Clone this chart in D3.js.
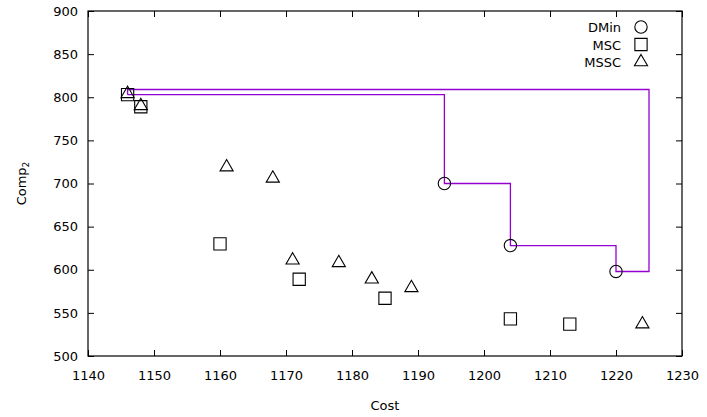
<!DOCTYPE html>
<html>
<head>
<meta charset="utf-8">
<script src="https://cdn.jsdelivr.net/npm/d3@7"></script>
<style>
  body { margin: 0; background: #fff; }
  svg { font-family: "DejaVu Sans", sans-serif; }
</style>
</head>
<body>
<div id="chart"></div>
<script>
// data
const dminCost = [1194, 1204, 1220];
const dminComp = [700, 628, 598];

const mscCost = [1146, 1148, 1160, 1172, 1185, 1204, 1213];
const mscComp = [803, 789, 630, 589, 567, 543, 537];

const msscCost = [1146, 1148, 1161, 1168, 1171, 1178, 1183, 1189, 1224];
const msscComp = [804, 790, 719, 706, 611, 608, 589, 579, 537];

// staircase front outline
const frontCost = [1146, 1194, 1194, 1204, 1204, 1220, 1220, 1225, 1225, 1146, 1146];
const frontComp = [803, 803, 700, 700, 628, 628, 598, 598, 809, 809, 803];

const xTicks = [1140, 1150, 1160, 1170, 1180, 1190, 1200, 1210, 1220, 1230];
const yTicks = [500, 550, 600, 650, 700, 750, 800, 850, 900];

const W = 707, H = 417;
const margin = { top: 11, right: 25, bottom: 61, left: 88 };
const width = W - margin.left - margin.right;
const height = H - margin.top - margin.bottom;

const x = d3.scaleLinear().domain([1140, 1230]).range([0, width]);
const y = d3.scaleLinear().domain([500, 900]).range([height, 0]);

const svg = d3.select('#chart').append('svg')
  .attr('width', W)
  .attr('height', H);

const g = svg.append('g')
  .attr('transform', `translate(${margin.left},${margin.top})`);

// axes with inward ticks, mirrored on top/right
const tickLen = 6;
const fmt = d3.format('d');
g.append('g')
  .attr('transform', `translate(0,${height})`)
  .call(d3.axisBottom(x).tickValues(xTicks).tickFormat(fmt).tickSizeInner(-tickLen).tickSizeOuter(0).tickPadding(15))
  .call(a => a.select('.domain').remove());
g.append('g')
  .call(d3.axisTop(x).tickValues(xTicks).tickSizeInner(-tickLen).tickSizeOuter(0).tickFormat(''))
  .call(a => a.select('.domain').remove());
g.append('g')
  .call(d3.axisLeft(y).tickValues(yTicks).tickFormat(fmt).tickSizeInner(-tickLen).tickSizeOuter(0).tickPadding(10))
  .call(a => a.select('.domain').remove());
g.append('g')
  .attr('transform', `translate(${width},0)`)
  .call(d3.axisRight(y).tickValues(yTicks).tickSizeInner(-tickLen).tickSizeOuter(0).tickFormat(''))
  .call(a => a.select('.domain').remove());

g.selectAll('.tick text')
  .style('font-size', '13px')
  .style('font-family', '"DejaVu Sans", sans-serif')
  .attr('fill', '#000');
g.selectAll('.tick line').attr('stroke', '#000');

g.append('rect')
  .attr('width', width)
  .attr('height', height)
  .attr('fill', 'none')
  .attr('stroke', '#000')
  .attr('stroke-width', 1.2);

// axis labels
svg.append('text')
  .attr('x', margin.left + width / 2)
  .attr('y', 410)
  .attr('text-anchor', 'middle')
  .attr('font-size', 13)
  .text('Cost');

const yl = svg.append('text')
  .attr('transform', `translate(26,${margin.top + height / 2}) rotate(-90)`)
  .attr('text-anchor', 'middle')
  .attr('font-size', 13);
yl.append('tspan').text('Comp');
yl.append('tspan').attr('font-size', 9).attr('dy', 3).text('2');

// front outline
const front = frontCost.map((c, i) => [c, frontComp[i]]);
g.append('path')
  .datum(front)
  .attr('fill', 'none')
  .attr('stroke', '#9400d3')
  .attr('stroke-width', 1.3)
  .attr('d', d3.line().x(d => x(d[0])).y(d => y(d[1])));

// marker shapes
const circle = d3.symbol().type(d3.symbolCircle).size(120);
const square = d3.symbol().type(d3.symbolSquare).size(150);
const triangle = d3.symbol().type(d3.symbolTriangle).size(75);

function drawPoints(costs, comps, sym) {
  g.append('g')
    .selectAll('path')
    .data(costs.map((c, i) => [c, comps[i]]))
    .enter().append('path')
    .attr('d', sym)
    .attr('transform', d => `translate(${x(d[0])},${y(d[1])})`)
    .attr('fill', 'none')
    .attr('stroke', '#000')
    .attr('stroke-width', 1.1);
}

drawPoints(dminCost, dminComp, circle);
drawPoints(mscCost, mscComp, square);
drawPoints(msscCost, msscComp, triangle);

// legend
const legend = [['DMin', circle], ['MSC', square], ['MSSC', triangle]];
const lg = svg.append('g');
legend.forEach((l, i) => {
  const ly = 27 + i * 17.5;
  lg.append('text')
    .attr('x', 621)
    .attr('y', ly + 5)
    .attr('text-anchor', 'end')
    .attr('font-size', 13)
    .text(l[0]);
  lg.append('path')
    .attr('d', l[1])
    .attr('transform', `translate(641,${ly})`)
    .attr('fill', 'none')
    .attr('stroke', '#000')
    .attr('stroke-width', 1.1);
});
</script>
</body>
</html>
